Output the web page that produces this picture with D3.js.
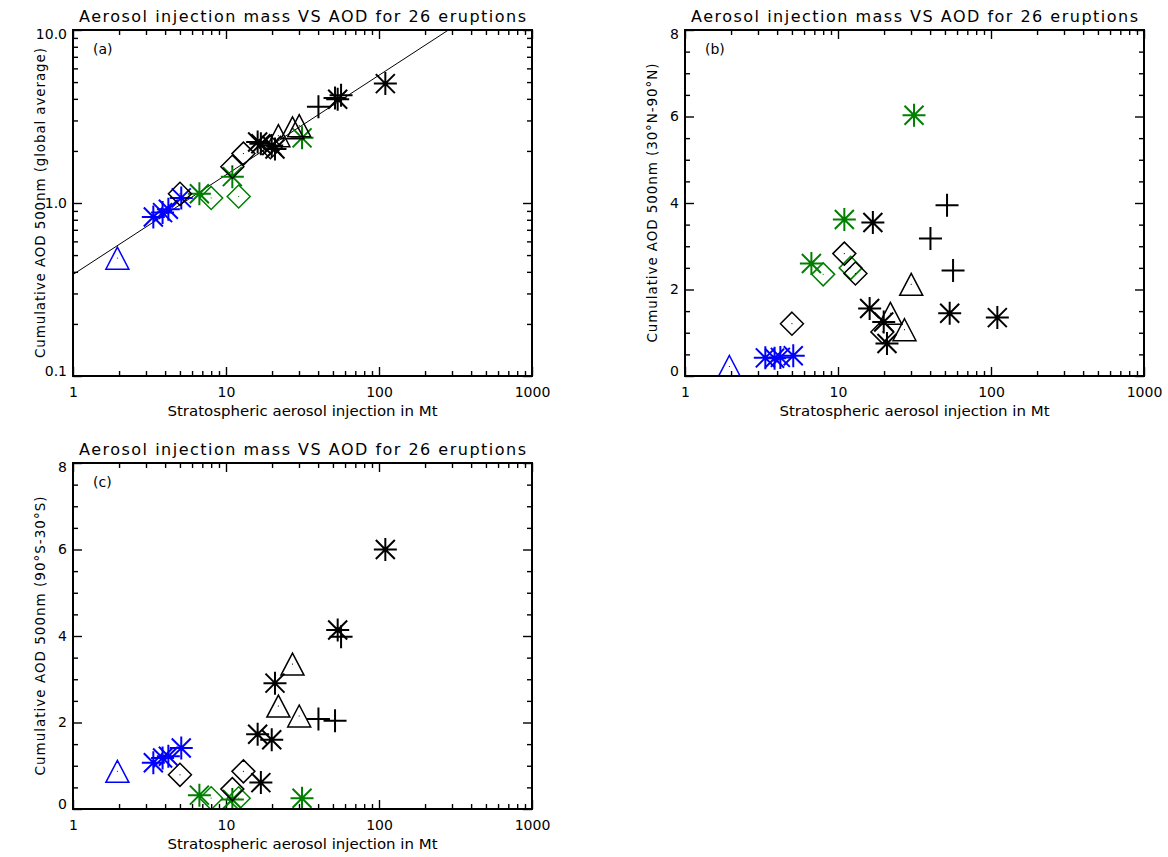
<!DOCTYPE html>
<html>
<head>
<meta charset="utf-8">
<script src="https://cdn.jsdelivr.net/npm/d3@7"></script>
<style>
  body { margin: 0; background: #fff; }
  text { font-family: "DejaVu Sans", sans-serif; fill: #000; }
</style>
</head>
<body>
<svg id="chart" width="1168" height="857"></svg>
<script>
// one entry per eruption (26)
const massMt      = [1.95, 3.35, 3.85, 4.2, 5.1,   6.7, 8.0, 11.0, 12.1, 31.4,   16.1, 16.9, 19.9, 20.9, 53.7, 110,   40.2, 51.6, 56.5,   22.0, 27.2, 30.1,   5.0, 11.0, 13.0, 19.5];
const markerShape = ["tri", "ast", "ast", "ast", "ast",   "ast", "dia", "ast", "dia", "ast",   "ast", "ast", "ast", "ast", "ast", "ast",   "plus", "plus", "plus",   "tri", "tri", "tri",   "dia", "dia", "dia", "dia"];
const markerColor = ["blue", "blue", "blue", "blue", "blue",   "green", "green", "green", "green", "green",   "black", "black", "black", "black", "black", "black",   "black", "black", "black",   "black", "black", "black",   "black", "black", "black", "black"];
const aodGlobal   = [0.48, 0.83, 0.88, 0.92, 1.07,   1.13, 1.07, 1.42, 1.09, 2.38,   2.25, 2.2, 2.15, 2.05, 3.98, 4.9,   3.6, 4.05, 4.2,   2.45, 2.72, 2.8,   1.13, 1.62, 1.93, 2.1];
const aodNorth    = [0.22, 0.42, 0.41, 0.43, 0.47,   2.6, 2.35, 3.62, 2.5, 6.03,   1.56, 3.55, 1.25, 0.75, 1.45, 1.35,   3.18, 3.95, 2.44,   1.45, 1.07, 2.12,   1.21, 2.83, 2.37, 1.02];
const aodSouth    = [0.87, 1.07, 1.18, 1.22, 1.41,   0.32, 0.25, 0.22, 0.25, 0.25,   1.73, 0.61, 1.6, 2.91, 4.14, 6.0,   2.08, 2.04, 3.98,   2.38, 3.35, 2.15,   0.79, 0.46, 0.87, null];

// axis ticks
const xMajorTicks = [1, 10, 100, 1000];
const xTickLabels = ["1", "10", "100", "1000"];
const logYMajorTicks = [0.1, 1, 10];
const logYTickLabels = ["0.1", "1.0", "10.0"];
const linYMajorTicks = [0, 2, 4, 6, 8];

// power-law fit drawn in panel (a): aod = fitCoef * mass ^ fitExp
const fitCoef = 0.386;
const fitExp = 0.576;

const titleText = "Aerosol injection mass VS AOD for 26 eruptions";
const xLabelText = "Stratospheric aerosol injection in Mt";

const colors = { blue: "#0000ff", green: "#007f00", black: "#000000" };

const plotW = 459;
const plotH = 346;

const panels = [
  { tag: "(a)", left: 73, top: 30, log: true, values: aodGlobal, ylabel: "Cumulative AOD 500nm (global average)", ylabelLen: 310, fit: true },
  { tag: "(b)", left: 685, top: 30, log: false, values: aodNorth, ylabel: "Cumulative AOD 500nm (30°N-90°N)", ylabelLen: 279, fit: false },
  { tag: "(c)", left: 73, top: 463, log: false, values: aodSouth, ylabel: "Cumulative AOD 500nm (90°S-30°S)", ylabelLen: 279, fit: false }
];

const svg = d3.select("#chart");

function minorLogTicks(lo, hi) {
  let ticks = [];
  for (let p = lo; p < hi; p++) {
    for (let k = 2; k <= 9; k++) ticks.push(k * Math.pow(10, p));
  }
  return ticks;
}

function markerPath(shape) {
  if (shape == "ast") {
    let r = 11.5, d = 9.5;
    return `M${-r},0L${r},0M0,${-r}L0,${r}M${-d},${-d}L${d},${d}M${-d},${d}L${d},${-d}`;
  }
  if (shape == "plus") {
    let r = 11.5;
    return `M${-r},0L${r},0M0,${-r}L0,${r}`;
  }
  if (shape == "dia") {
    let r = 11.5;
    return `M0,${-r}L${r},0L0,${r}L${-r},0Z`;
  }
  // triangle
  return "M0,-11L11.5,11L-11.5,11Z";
}

function drawPanel(p, idx) {
  let g = svg.append("g").attr("transform", "translate(" + p.left + "," + p.top + ")");

  let x = d3.scaleLog().domain([1, 1000]).range([0, plotW]);
  let y = p.log
    ? d3.scaleLog().domain([0.1, 10]).range([plotH, 0])
    : d3.scaleLinear().domain([0, 8]).range([plotH, 0]);

  let yMajor = p.log ? logYMajorTicks : linYMajorTicks;
  let yMinor = p.log ? minorLogTicks(-1, 1) : d3.range(1, 16).map(i => i * 0.5).filter(v => v % 2 != 0);
  let xMinor = minorLogTicks(0, 3);

  let clipId = "clip" + idx;
  g.append("clipPath").attr("id", clipId)
    .append("rect").attr("width", plotW).attr("height", plotH);

  let strip = sel => sel.call(s => s.select(".domain").remove())
    .call(s => s.selectAll(".tick line").attr("stroke-width", 1.4));

  // x ticks, bottom with labels, top mirrored
  g.append("g").attr("transform", "translate(0," + plotH + ")")
    .call(d3.axisBottom(x).tickValues(xMajorTicks).tickSize(-9).tickPadding(11).tickFormat((d, i) => xTickLabels[i]))
    .call(strip)
    .call(s => s.selectAll("text").attr("font-size", 14).attr("font-family", null));
  g.append("g").attr("transform", "translate(0," + plotH + ")")
    .call(d3.axisBottom(x).tickValues(xMinor).tickSize(-5).tickFormat("")).call(strip);
  g.append("g")
    .call(d3.axisTop(x).tickValues(xMajorTicks).tickSize(-9).tickFormat("")).call(strip);
  g.append("g")
    .call(d3.axisTop(x).tickValues(xMinor).tickSize(-5).tickFormat("")).call(strip);

  // y ticks, left with labels, right mirrored
  let yLabels = p.log ? ((d, i) => logYTickLabels[i]) : d3.format("d");
  let yTop = y.domain()[1], yBottom = y.domain()[0];
  g.append("g")
    .call(d3.axisLeft(y).tickValues(yMajor).tickSize(-9).tickPadding(6).tickFormat(yLabels))
    .call(strip)
    .call(s => s.selectAll("text").attr("font-size", 14).attr("font-family", null)
      .attr("y", d => d === yTop ? 4 : d === yBottom ? -5 : 0));
  g.append("g")
    .call(d3.axisLeft(y).tickValues(yMinor).tickSize(-5).tickFormat("")).call(strip);
  g.append("g").attr("transform", "translate(" + plotW + ",0)")
    .call(d3.axisRight(y).tickValues(yMajor).tickSize(-9).tickFormat("")).call(strip);
  g.append("g").attr("transform", "translate(" + plotW + ",0)")
    .call(d3.axisRight(y).tickValues(yMinor).tickSize(-5).tickFormat("")).call(strip);

  let plot = g.append("g").attr("clip-path", "url(#" + clipId + ")");

  if (p.fit) {
    let ends = x.domain();
    let line = d3.line().x(d => x(d)).y(d => y(fitCoef * Math.pow(d, fitExp)));
    plot.append("path")
      .datum(ends)
      .attr("fill", "none")
      .attr("stroke", "#000")
      .attr("stroke-width", 1)
      .attr("d", line);
  }

  let pts = massMt.map((m, i) => ({ mass: m, value: p.values[i], shape: markerShape[i], color: colors[markerColor[i]] }))
    .filter(d => d.value != null);

  let marks = plot.selectAll("g.mark").data(pts).enter().append("g")
    .attr("class", "mark")
    .attr("transform", d => "translate(" + x(d.mass) + "," + y(d.value) + ")");
  marks.append("path")
    .attr("d", d => markerPath(d.shape))
    .attr("fill", "none")
    .attr("stroke", d => d.color)
    .attr("stroke-width", d => (d.shape == "ast" || d.shape == "plus") ? 2 : 1.5);
  marks.filter(d => d.shape == "tri" || d.shape == "dia").append("rect")
    .attr("x", -0.5).attr("y", -0.5).attr("width", 1).attr("height", 1)
    .attr("fill", d => d.color);

  // frame
  g.append("rect")
    .attr("width", plotW).attr("height", plotH)
    .attr("fill", "none").attr("stroke", "#000").attr("stroke-width", 2);

  g.append("text")
    .attr("x", 20).attr("y", 24)
    .attr("font-size", 14)
    .text(p.tag);

  g.append("text")
    .attr("x", plotW / 2).attr("y", -8)
    .attr("text-anchor", "middle")
    .attr("font-size", 16)
    .attr("textLength", 447).attr("lengthAdjust", "spacing")
    .text(titleText);

  g.append("text")
    .attr("x", plotW / 2).attr("y", plotH + 40)
    .attr("text-anchor", "middle")
    .attr("font-size", 13.5)
    .attr("textLength", 270).attr("lengthAdjust", "spacingAndGlyphs")
    .text(xLabelText);

  g.append("text")
    .attr("transform", "translate(-28," + (plotH / 2) + ") rotate(-90)")
    .attr("text-anchor", "middle")
    .attr("font-size", 13.5)
    .attr("textLength", p.ylabelLen).attr("lengthAdjust", "spacing")
    .text(p.ylabel);
}

panels.forEach(drawPanel);
</script>
</body>
</html>
